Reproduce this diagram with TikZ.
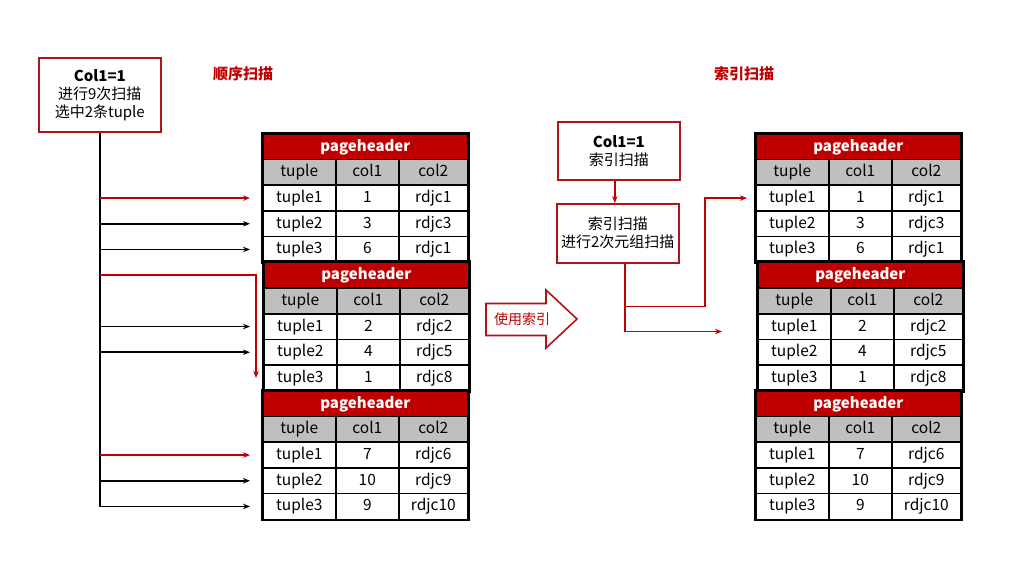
\documentclass[tikz,border=0pt]{standalone}
\usepackage{fontspec}
\setmainfont{Noto Sans CJK SC}
\usepackage{tikz}
\usetikzlibrary{arrows.meta,calc}
\definecolor{pgred}{HTML}{C00000}
\definecolor{boxred}{HTML}{B01414}
\definecolor{hdgray}{HTML}{BFBFBF}
\tikzstyle{cell} = [draw=black,line width=1.6pt,minimum height=25.7pt,inner sep=0pt,text height=10.5pt,text depth=1.5pt,anchor=north west,font=\fontsize{15.5}{17}\selectfont]
\tikzstyle{headcell} = [cell,fill=hdgray]
\tikzstyle{pagecell} = [cell,fill=pgred,text=white,minimum width=205pt,font=\fontsize{15}{17}\selectfont\bfseries]
\tikzstyle{redbox} = [draw=boxred,line width=1.6pt,fill=white,align=center,anchor=north west,inner sep=0pt,font=\fontsize{15}{18}\selectfont]
\tikzstyle{titletxt} = [text=pgred,font=\fontsize{15}{17}\selectfont\bfseries]
\tikzstyle{blkarrow} = [line width=1.6pt,-{Stealth[length=7pt,width=5.5pt]}]
\tikzstyle{redarrow} = [pgred,line width=1.5pt,-{Stealth[length=7pt,width=5.5pt]}]

% one page: header, column row and three tuples
\newcommand{\pagetable}[4]{%
	\node[pagecell] (#1h) at (#2,#3) {pageheader};
	\node[headcell,minimum width=73pt] (#1-0-1) at (#2,#3+25.7) {tuple};
	\node[headcell,minimum width=63pt] (#1-0-2) at (#2+73,#3+25.7) {col1};
	\node[headcell,minimum width=69pt] (#1-0-3) at (#2+136,#3+25.7) {col2};
	\foreach \ta/\tb/\tc [count=\rw] in {#4}{%
		\node[cell,minimum width=73pt] (#1-\rw-1) at (#2,{#3+25.7*(\rw+1)}) {\ta};
		\node[cell,minimum width=63pt] (#1-\rw-2) at (#2+73,{#3+25.7*(\rw+1)}) {\tb};
		\node[cell,minimum width=69pt] (#1-\rw-3) at (#2+136,{#3+25.7*(\rw+1)}) {\tc};
	}
	\draw[line width=2.2pt] (#1h.north west) rectangle (#1-3-3.south east);
}

\begin{document}
\begin{tikzpicture}[x=1pt,y=-1pt]
	\useasboundingbox[fill=white] (0,0) rectangle (1024,576);
	
	% Titles:
	\node[titletxt] (seqtitle) at (243,74) {顺序扫描};
	\node[titletxt] (idxtitle) at (744,74) {索引扫描};
	
	% Sequential scan, left:
	\node[redbox,minimum width=122pt,minimum height=74pt] (lbox) at (38,57) {\textbf{Col1=1}\\进行9次扫描\\选中2条tuple};
	
	\pagetable{sa}{262}{133}{tuple1/1/rdjc1, tuple2/3/rdjc3, tuple3/6/rdjc1}
	\pagetable{sb}{263}{261.5}{tuple1/2/rdjc2, tuple2/4/rdjc5, tuple3/1/rdjc8}
	\pagetable{sc}{262}{390}{tuple1/7/rdjc6, tuple2/10/rdjc9, tuple3/9/rdjc10}
	
	% trunk and the last arrow
	\draw[blkarrow] (lbox.south) |- ([xshift=-12pt]sc-3-1.west);
	\foreach \t/\s in {sa-2-1/12,sa-3-1/12,sb-1-1/13,sb-2-1/13,sc-2-1/12}{%
		\draw[blkarrow] (lbox.south |- \t.west) -- ([xshift=-\s pt]\t.west);
	}
	\draw[redarrow] (lbox.south |- sa-1-1.west) -- ([xshift=-12pt]sa-1-1.west);
	\draw[redarrow] (lbox.south |- sc-1-1.west) -- ([xshift=-12pt]sc-1-1.west);
	\draw[redarrow] (lbox.south |- sbh.west) -| ([xshift=-7pt]sb-3-1.west);
	
	% Use index arrow:
	\draw[boxred,line width=1.6pt,fill=white] (486,303.5) -- (546,303.5) -- (546,290) -- (577,319) -- (546,348) -- (546,335.5) -- (486,335.5) -- cycle;
	\node[text=pgred,font=\fontsize{14}{16}\selectfont] (useidx) at (522,319) {使用索引};
	
	% Index scan, right:
	\node[redbox,minimum width=122pt,minimum height=58pt] (mq) at (557,121) {\textbf{Col1=1}\\索引扫描};
	\node[redbox,minimum width=122pt,minimum height=59pt] (ms) at (556,203) {索引扫描\\进行2次元组扫描};
	\draw[redarrow] ([xshift=-4pt]mq.south) -- ([xshift=-4pt]mq.south |- ms.north);
	
	\pagetable{ia}{755}{133}{tuple1/1/rdjc1, tuple2/3/rdjc3, tuple3/6/rdjc1}
	\pagetable{ib}{757}{261.5}{tuple1/2/rdjc2, tuple2/4/rdjc5, tuple3/1/rdjc8}
	\pagetable{ic}{755}{390}{tuple1/7/rdjc6, tuple2/10/rdjc9, tuple3/9/rdjc10}
	
	\coordinate (msout) at ([xshift=7pt]ms.south);
	\draw[redarrow] (msout) |- ([xshift=-35pt,yshift=-5pt]ib-1-1.west);
	\draw[redarrow] ([yshift=-43pt]msout) -- ++(80,0) |- ([xshift=-8pt]ia-1-1.west);
\end{tikzpicture}
\end{document}
